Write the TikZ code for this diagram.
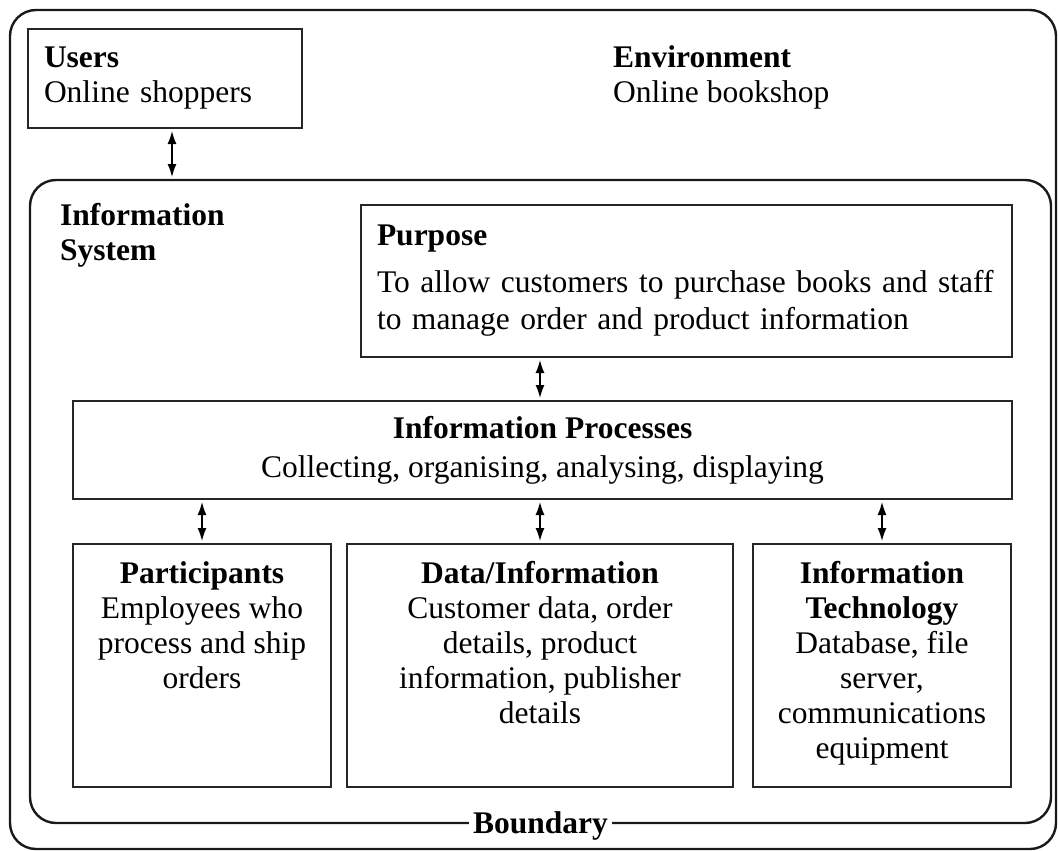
\documentclass[tikz,border=0pt]{standalone}
\usepackage{fontspec}
\setmainfont{Liberation Serif}
\usetikzlibrary{arrows.meta}

\tikzset{
  frame/.style={draw=black!90, line width=2.4pt, rounded corners=26pt, inner sep=0pt, outer sep=0pt, anchor=north west},
  box/.style={draw=black!85, line width=1.2pt, inner sep=0pt, outer sep=0pt, anchor=north west},
  txt/.style={inner sep=0pt, font=\fontsize{31.5}{35}\selectfont},
  link/.style={{Latex[length=13pt,width=9pt]}-{Latex[length=13pt,width=9pt]}, line width=1.4pt, shorten <=3pt, shorten >=3pt}
}

\begin{document}
\begin{tikzpicture}[x=1pt,y=-1pt]
\useasboundingbox (0,0) rectangle (1058,851);
%% 바깥 틀과 정보시스템 틀
\node[frame, minimum width=1046pt, minimum height=839pt] (env) at (10,10) {};
\node[frame, minimum width=1021pt, minimum height=643pt] (infosys) at (30,180) {};
%% 위쪽 글상자
\node[box, txt, align=left, inner xsep=16pt, text width=242pt, minimum width=274pt, minimum height=99pt] (users) at (28,29) {\textbf{Users}\\Online shoppers};
\node[txt, align=left, anchor=north west] (envtext) at (613,45) {\textbf{Environment}\\Online bookshop};
\node[txt, align=left, anchor=north west] (systext) at (60,203) {\textbf{Information}\\\textbf{System}};
\node[box, txt, font=\fontsize{31.5}{37}\selectfont, align=left, inner xsep=16pt, text width=619pt, minimum width=651pt, minimum height=152pt] (purpose) at (361,205) {\textbf{Purpose}\\[10pt]To allow customers to purchase books and staff\\to manage order and product information};
\node[box, txt, align=center, minimum width=939pt, minimum height=98pt] (proc) at (73,401) {\textbf{Information Processes}\\[4pt]Collecting, organising, analysing, displaying};
%% 아래쪽 세 상자
\node[box, minimum width=258pt, minimum height=243pt] (part) at (73,544) {};
\node[box, minimum width=386pt, minimum height=243pt] (data) at (347,544) {};
\node[box, minimum width=258pt, minimum height=243pt] (tech) at (753,544) {};
\node[txt, align=center, anchor=north] (parttext) at ([yshift=-17pt]part.north) {\textbf{Participants}\\Employees who\\process and ship\\orders};
\node[txt, align=center, anchor=north] (datatext) at ([yshift=-17pt]data.north) {\textbf{Data/Information}\\Customer data, order\\details, product\\information, publisher\\details};
\node[txt, align=center, anchor=north] (techtext) at ([yshift=-17pt]tech.north) {\textbf{Information}\\\textbf{Technology}\\Database, file\\server,\\communications\\equipment};
%% 경계
\node[txt, fill=white, inner xsep=4pt, inner ysep=2pt, anchor=base] (boundary) at ([yshift=-10pt]infosys.south) {\textbf{Boundary}};
%% 양방향 화살표
\draw[link] ([xshift=7pt]users.south) -- ([xshift=7pt]users.south |- infosys.north);
\draw[link] (data.north |- purpose.south) -- (data.north |- proc.north);
\draw[link] (part.north |- proc.south) -- (part.north);
\draw[link] (data.north |- proc.south) -- (data.north);
\draw[link] (tech.north |- proc.south) -- (tech.north);
\end{tikzpicture}
\end{document}
